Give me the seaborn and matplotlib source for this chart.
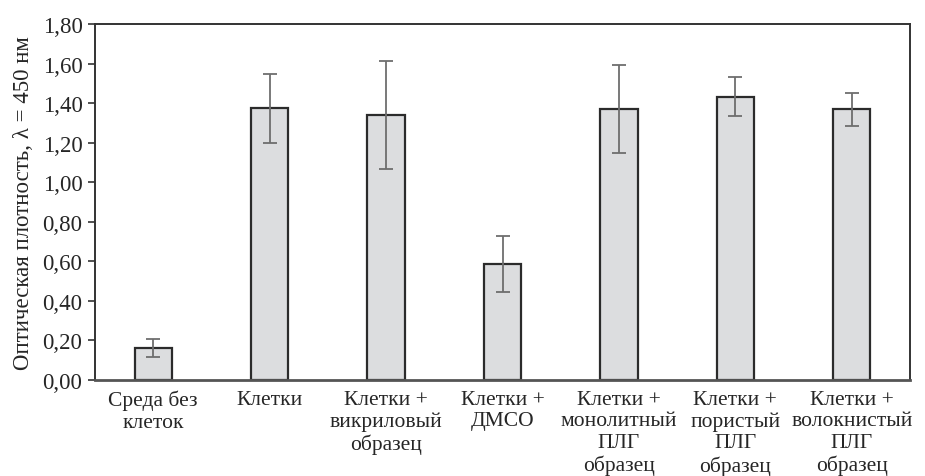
import matplotlib
matplotlib.use("Agg")
import matplotlib.pyplot as plt
import matplotlib.ticker as mticker
import numpy as np
import pandas as pd
import seaborn as sns

categories = [
    "Среда без\nклеток",
    "Клетки",
    "Клетки +\nвикриловый\nобразец",
    "Клетки +\nДМСО",
    "Клетки +\nмонолитный\nПЛГ\nобразец",
    "Клетки +\nпористый\nПЛГ\nобразец",
    "Клетки +\nволокнистый\nПЛГ\nобразец",
]
values = [0.162, 1.374, 1.341, 0.587, 1.369, 1.433, 1.369]
errors = [0.046, 0.175, 0.273, 0.142, 0.222, 0.099, 0.083]

sns.set_style("white")
plt.rcParams["font.family"] = ["Liberation Serif", "DejaVu Serif"]

df = pd.DataFrame({"group": categories, "od": values, "err": errors})

fig = plt.figure(figsize=(9.25, 4.77), dpi=100)
ax = fig.add_axes([0.1027, 0.2013, 0.8811, 0.7463])

sns.barplot(data=df, x="group", y="od", ax=ax, color="#dcdddf",
            edgecolor="#2b2b2b", linewidth=1.6, width=0.32, saturation=1)
ax.errorbar(np.arange(len(values)), df["od"], yerr=df["err"], fmt="none",
            ecolor="#6e6e6e", elinewidth=1.3, capsize=5, capthick=1.3)

ax.set_xlim(-0.5, len(values) - 0.5)
ax.set_ylim(0, 1.8)
ax.set_yticks(np.arange(0, 1.81, 0.2))
ax.yaxis.set_major_formatter(mticker.FuncFormatter(lambda v, p: f"{v:.2f}".replace(".", ",")))
ax.set_xlabel("")
ax.set_ylabel("Оптическая плотность, λ = 450 нм", fontsize=16.5, labelpad=6)

ax.tick_params(axis="y", direction="out", length=5, width=1.2, color="#333333",
               labelsize=16.5, pad=4, left=True)
ax.tick_params(axis="x", length=0, labelsize=15.5, pad=7)
for lab in ax.get_xticklabels():
    lab.set_linespacing(1.18)
    lab.set_verticalalignment("top")

for s in ax.spines.values():
    s.set_visible(True)
    s.set_color("#333333")
    s.set_linewidth(1.4)
ax.spines["bottom"].set_color("#555555")
ax.spines["bottom"].set_linewidth(2)

fig.savefig("out.png", dpi=100)
